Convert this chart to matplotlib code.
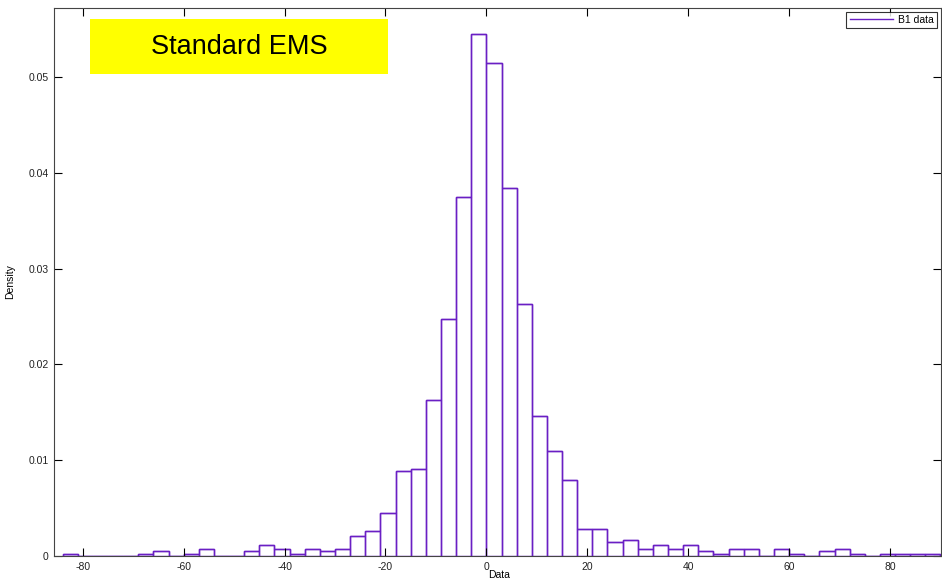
import numpy as np
import matplotlib
matplotlib.use('Agg')
import matplotlib.pyplot as plt

plt.rcParams['font.family'] = ['Liberation Sans', 'DejaVu Sans']

# histogram bins: width 3, from -84 to 90
bin_start = -84
bin_width = 3
# density per bin
density = [0.00024, 0, 0, 0, 0, 0.00024, 0.00049, 0, 0.00024, 0.00070,
           0, 0, 0.00049, 0.00118, 0.00070, 0.00024, 0.00070, 0.00049, 0.00070, 0.00212,
           0.00257, 0.00445, 0.00884, 0.00908, 0.01625, 0.02471, 0.03744, 0.05449, 0.05149, 0.03838,
           0.02634, 0.01465, 0.01093, 0.00790, 0.00282, 0.00282, 0.00143, 0.00167, 0.00073, 0.00118,
           0.00073, 0.00118, 0.00049, 0.00024, 0.00073, 0.00073, 0, 0.00073, 0.00024, 0,
           0.00049, 0.00073, 0.00024, 0, 0.00024, 0.00024, 0.00024, 0.00024]
xticks = [-80, -60, -40, -20, 0, 20, 40, 60, 80]
yticks = [0, 0.01, 0.02, 0.03, 0.04, 0.05]
ytick_labels = ['0', '0.01', '0.02', '0.03', '0.04', '0.05']

edges = bin_start + bin_width * np.arange(len(density) + 1)
purple = '#6a1fc4'

fig = plt.figure(figsize=(9.42, 5.80), dpi=100)
ax = fig.add_axes([54 / 942, 24 / 580, 887 / 942, 548 / 580])

ax.stairs(density, edges, color=purple, linewidth=1.0, label='B1 data')
# vertical edges between bins (MATLAB draws each bar as a box)
ax.bar(edges[:-1], density, width=bin_width, align='edge', fill=False,
       edgecolor=purple, linewidth=1.0)

ax.set_xlim(-85.7, 90.1)
ax.set_ylim(0, 0.0572)
ax.set_xticks(xticks)
ax.set_xticklabels([str(t) for t in xticks])
ax.set_yticks(yticks)
ax.set_yticklabels(ytick_labels)
ax.tick_params(direction='in', length=6, width=0.8, top=True, right=True,
               labelsize=7.5, labelcolor='#222222', pad=4)
for s in ax.spines.values():
    s.set_linewidth(0.8)
    s.set_color('#444444')

ax.set_xlabel('Data', fontsize=7.5)
ax.xaxis.set_label_coords(445 / 887, -14.5 / 548)
ax.set_ylabel('Density', fontsize=7.5)
ax.yaxis.set_label_coords(-39 / 887, 0.5)

leg = ax.legend(loc='upper right', fontsize=7.5, frameon=True, fancybox=False,
                handlelength=4.2, handletextpad=0.5, borderpad=0.3,
                borderaxespad=0.35, edgecolor='black')
leg.get_frame().set_linewidth(0.8)

# yellow title box
fig.patches.append(plt.Rectangle((90 / 942, 1 - 74 / 580), 298 / 942, 55 / 580,
                                 transform=fig.transFigure, facecolor='#ffff00',
                                 edgecolor='none', zorder=4))
fig.text(239 / 942, 1 - 47 / 580, 'Standard EMS', fontsize=19.5, ha='center', va='center',
         zorder=5)

fig.savefig('out.png', dpi=100)
